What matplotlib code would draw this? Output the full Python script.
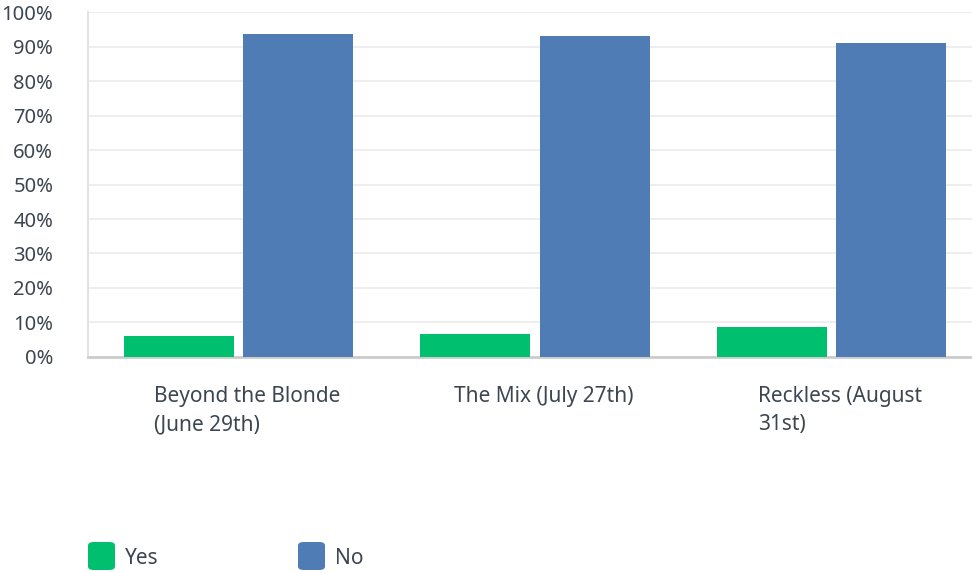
import numpy as np
import matplotlib.pyplot as plt
from matplotlib.patches import FancyBboxPatch

# survey answers per event, in percent
categories = ["Beyond the Blonde\n(June 29th)", "The Mix (July 27th)", "Reckless (August\n31st)"]
yes_pct = [6.1, 6.7, 8.7]
no_pct = [93.6, 93.0, 91.0]
series_names = ["Yes", "No"]
colors = ["#00BF6F", "#4F7CB5"]
yticks = [0, 10, 20, 30, 40, 50, 60, 70, 80, 90, 100]

plt.rcParams['font.family'] = ['Noto Sans', 'DejaVu Sans']
text_color = "#3d4650"

fig = plt.figure(figsize=(9.72, 5.73), dpi=100)
ax = fig.add_axes([88 / 972, 0.377, 884 / 972, 0.602])

x = np.arange(len(categories))
w = 0.371
ax.bar(x - 0.2015, yes_pct, width=w, color=colors[0], zorder=3)
ax.bar(x + 0.2015, no_pct, width=w, color=colors[1], zorder=3)

ax.set_xlim(-0.5076, 2.474)
ax.set_ylim(0, 100)
ax.set_yticks(yticks)
ax.set_yticklabels([f"{t}%" for t in yticks], fontsize=14.5, color=text_color)
ax.tick_params(axis='y', length=0, pad=25)
ax.set_xticks([])
ax.grid(axis='y', color="#ebebeb", linewidth=1.2, zorder=0)

for s in ['top', 'right']:
    ax.spines[s].set_visible(False)
ax.spines['left'].set_color("#dddddd")
ax.spines['left'].set_linewidth(1.2)
ax.spines['bottom'].set_color("#cccccc")
ax.spines['bottom'].set_linewidth(2)

for i, lab in enumerate(categories):
    ax.text(i + 0.03, -8.5, lab, ha='center', va='top', multialignment='left',
            fontsize=15, color=text_color, linespacing=1.45,
            transform=ax.transData, clip_on=False)

# legend drawn with rounded squares
W, H = 972, 573
for px, name, c in [(88, series_names[0], colors[0]), (298, series_names[1], colors[1])]:
    box = FancyBboxPatch((px / W, 1 - 570 / H), 27 / W, 28 / H,
                         boxstyle="round,pad=0,rounding_size=0.006",
                         transform=fig.transFigure, facecolor=c, edgecolor='none')
    fig.patches.append(box)
    fig.text((px + 37) / W, 1 - 559 / H, name, fontsize=15, color=text_color,
             va='center', ha='left')

fig.savefig("out.png", dpi=100)
